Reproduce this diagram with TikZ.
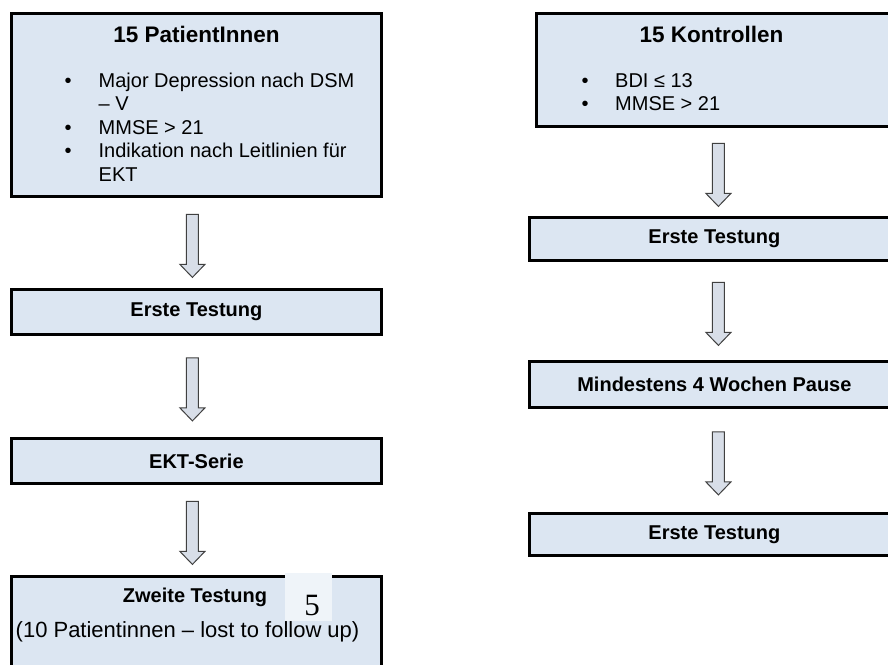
\documentclass[tikz,border=0pt]{standalone}
\usepackage{fontspec}
\setmainfont{Liberation Sans}
\newfontfamily\pagenumfont{Liberation Serif}
\usetikzlibrary{calc}
\definecolor{BoxFill}{HTML}{DCE6F2}
\definecolor{ArrowFill}{HTML}{D8DEE8}
\definecolor{ArrowLine}{HTML}{404040}

% hollow block arrow between two boxes, optional x offset
\newcommand{\flowarrow}[3][0]{%
	\path[block arrow] ($(#2.south)!0.5!(#3.north)+(#1,34.5)$)
	-- ++(12.5,-13) -- ++(-6.5,0) -- ++(0,-50) -- ++(-12,0)
	-- ++(0,50) -- ++(-6.5,0) -- cycle;}

\begin{document}
\begin{tikzpicture}[
	x=1pt, y=-1pt, % picture in pixel units, y going down
	% Style for the light blue boxes
	flow box/.style={
		draw=black,
		line width=2.8pt,
		fill=BoxFill,
		minimum width=370pt,
		inner sep=0pt,
		anchor=north west,
		font=\bfseries\fontsize{20}{24}\selectfont
	},
	% Style for the box titles
	box title/.style={
		anchor=base,
		inner sep=0pt,
		font=\bfseries\fontsize{22.5}{27}\selectfont
	},
	% Style for the bullet lists
	list text/.style={
		anchor=base west,
		inner sep=0pt,
		font=\fontsize{20}{23.5}\selectfont
	},
	% Style for the hollow arrows
	block arrow/.style={
		draw=ArrowLine,
		fill=ArrowFill,
		line width=1pt,
		line join=miter
	}
	]
	\useasboundingbox (0,0) rectangle (888,664);
	\clip (0,0) rectangle (888,664);
	
	% 1. Left column: patients
	\node[flow box, minimum height=183pt] (pat) at (10,12) {};
	\node[box title] (pattitle) at (196.5,42) {15 PatientInnen};
	\node[list text] (patlist) at (64.5,87) {\begin{tabular}[t]{@{}p{34pt}@{}l@{}}
		\textbullet & Major Depression nach DSM\\
		& – V\\
		\textbullet & MMSE > 21\\
		\textbullet & Indikation nach Leitlinien für\\
		& EKT
	\end{tabular}};
	
	\node[flow box, minimum height=45pt] (test1) at (10,288) {Erste Testung};
	\node[flow box, minimum height=45pt] (ekt) at (10,437) {EKT-Serie};
	\node[flow box, minimum height=100pt] (test2) at (10,575) {};
	
	% page number patch lying over the last box
	\node[fill=BoxFill!45!white, inner sep=0pt, minimum width=47pt, minimum height=48pt,
		anchor=north west] (patch) at (285,573) {};
	\node[anchor=base, inner sep=0pt, font=\pagenumfont\fontsize{31}{31}\selectfont]
		(pagenum) at (312,615) {5};
	
	\node[box title, font=\bfseries\fontsize{20}{24}\selectfont] (test2title) at (195,602) {Zweite Testung};
	\node[list text, font=\fontsize{22}{26}\selectfont] (test2note) at (15.5,637)
		{(10 Patientinnen – lost to follow up)};
	
	% 2. Right column: controls
	\node[flow box, minimum width=360pt, minimum height=113pt] (kon) at (535,12) {};
	\node[box title] (kontitle) at (711.5,42) {15 Kontrollen};
	\node[list text] (konlist) at (581.5,87) {\begin{tabular}[t]{@{}p{33.5pt}@{}l@{}}
		\textbullet & BDI ≤ 13\\[-0.5pt]
		\textbullet & MMSE > 21
	\end{tabular}};
	
	\node[flow box, minimum height=43pt] (ctest1) at (528,216) {Erste Testung};
	\node[flow box, minimum height=46pt] (pause) at (528,360) {Mindestens 4 Wochen Pause};
	\node[flow box, minimum height=42pt] (ctest2) at (528,512) {Erste Testung};
	
	% 3. Arrows between the boxes
	\flowarrow[-4]{pat}{test1}
	\flowarrow[-4]{test1}{ekt}
	\flowarrow[-4]{ekt}{test2}
	
	\flowarrow[3]{kon}{ctest1}
	\flowarrow[4]{ctest1}{pause}
	\flowarrow[4]{pause}{ctest2}
	
\end{tikzpicture}
\end{document}
